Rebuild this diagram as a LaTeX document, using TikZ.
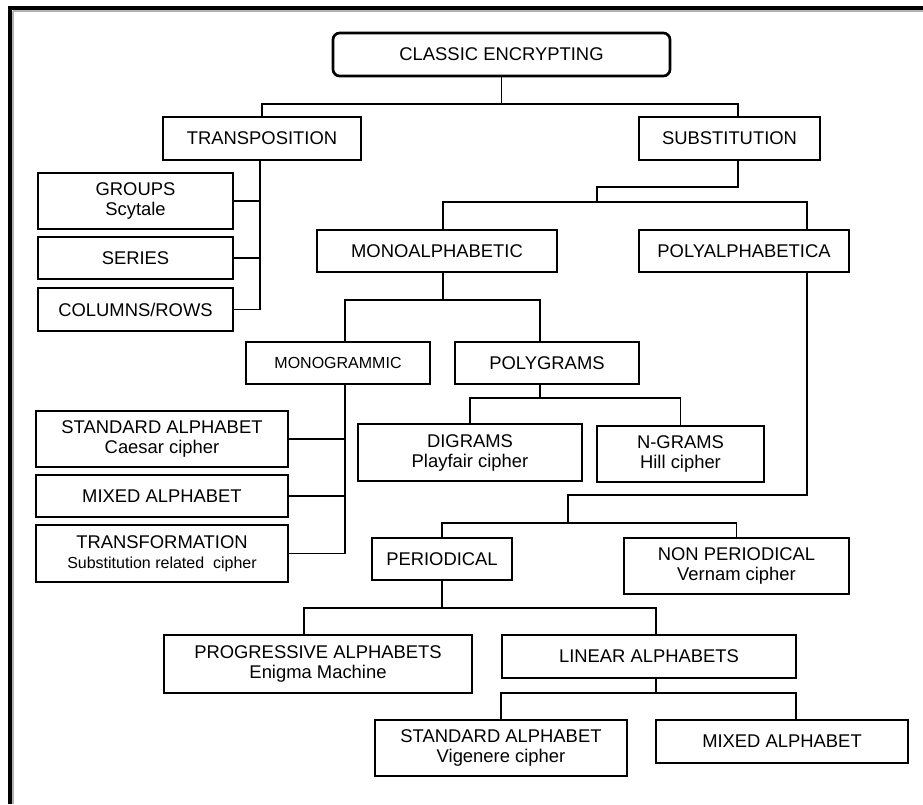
\documentclass[tikz,border=0pt]{standalone}
\usepackage{fontspec}
\setmainfont{Liberation Sans}
\usepackage{tikz}
\usetikzlibrary{positioning,calc}
\tikzstyle{box} = [rectangle, draw=black, line width=1.1pt, text centered, align=center, inner sep=0pt, font=\fontsize{13.8}{15}\selectfont]
\tikzstyle{rootbox} = [box, rounded corners=5pt, line width=2pt]
\tikzstyle{conn} = [draw=black, line width=1.1pt]
\newcommand{\sm}{\fontsize{12}{14}\selectfont}

\begin{document}
\begin{tikzpicture}[x=0.75pt, y=-0.75pt]
				\useasboundingbox (0,0) rectangle (923,804);
				% frame
				\draw[gray!60, line width=0.8pt] (13,11) -- (923,11);
				\draw[gray!60, line width=0.8pt] (13,11) -- (13,804);
				\draw[line width=3pt] (8,8) -- (923,8);
				\draw[line width=3pt] (10,6) -- (10,804);
				
				\node[rootbox, minimum width=252.75pt, minimum height=32.25pt] (classic) at (501.5,54.5) {CLASSIC ENCRYPTING};
				
				\node[box, minimum width=148.5pt, minimum height=32.25pt] (transp) at (262,138.5) {TRANSPOSITION};
				\node[box, minimum width=135.75pt, minimum height=32.25pt] (subst) at (729.5,138.5) {SUBSTITUTION};
				
				\node[box, minimum width=146.25pt, minimum height=42pt] (groups) at (135.5,201) {GROUPS\\Scytale};
				\node[box, minimum width=146.25pt, minimum height=31.5pt] (series) at (135.5,258) {SERIES};
				\node[box, minimum width=146.25pt, minimum height=32.25pt] (colrow) at (135.5,309.5) {COLUMNS/ROWS};
				
				\node[box, minimum width=180pt, minimum height=31.5pt] (mono) at (437,251) {MONOALPHABETIC};
				\node[box, minimum width=157.5pt, minimum height=31.5pt] (polyalph) at (744,251) {POLYALPHABETICA};
				
				\node[box, minimum width=138pt, minimum height=31.5pt] (monogr) at (338,363) {\sm MONOGRAMMIC};
				\node[box, minimum width=138pt, minimum height=31.5pt] (polygr) at (547,363) {POLYGRAMS};
				
				\node[box, minimum width=189pt, minimum height=42pt] (stdalpha) at (162,439) {STANDARD ALPHABET\\Caesar cipher};
				\node[box, minimum width=189pt, minimum height=31.5pt] (mixalpha) at (162,496) {MIXED ALPHABET};
				\node[box, minimum width=189pt, minimum height=42.75pt] (transf) at (162,553.5) {TRANSFORMATION\\\sm Substitution related\ \ cipher};
				
				\node[box, minimum width=168pt, minimum height=42.75pt] (digrams) at (470,452.5) {DIGRAMS\\Playfair cipher};
				\node[box, minimum width=125.25pt, minimum height=42pt] (ngrams) at (680.5,454) {N-GRAMS\\Hill cipher};
				
				\node[box, minimum width=105pt, minimum height=31.5pt] (periodical) at (442,559) {PERIODICAL};
				\node[box, minimum width=168.75pt, minimum height=42pt] (nonper) at (736.5,566) {NON PERIODICAL\\Vernam cipher};
				
				\node[box, minimum width=231pt, minimum height=43.5pt] (progr) at (318,664) {PROGRESSIVE ALPHABETS\\Enigma Machine};
				\node[box, minimum width=220.5pt, minimum height=32.25pt] (linear) at (649,656.5) {LINEAR ALPHABETS};
				
				\node[box, minimum width=189pt, minimum height=42pt] (stdvig) at (501,748) {STANDARD ALPHABET\\Vigenere cipher};
				\node[box, minimum width=189pt, minimum height=32.25pt] (mixed2) at (782,741.5) {MIXED ALPHABET};
				
				% junction levels and trunks
				\coordinate (h1) at (0,104);
				\coordinate (h2) at (0,187);
				\coordinate (h3) at (0,202);
				\coordinate (h4) at (0,300);
				\coordinate (h5) at (0,398);
				\coordinate (h6) at (0,495);
				\coordinate (h7) at (0,523);
				\coordinate (h8) at (0,608);
				\coordinate (h9) at (0,693);
				\coordinate (sv) at (738,0);
				\coordinate (tv) at (260,0);
				\coordinate (sj) at (597,0);
				\coordinate (mv) at (443,0);
				\coordinate (pv) at (807,0);
				\coordinate (mgv) at (345,0);
				\coordinate (pgv) at (540,0);
				\coordinate (pj) at (568,0);
				\coordinate (prv) at (304,0);
				\coordinate (lv) at (656,0);
				\coordinate (mxv) at (796,0);
				
				\draw[conn] (classic.south) -- (classic.south |- h1);
				\draw[conn] (transp.north) |- (sv |- h1) -- (sv |- subst.north);
				
				\draw[conn] (tv |- transp.south) |- (colrow.east);
				\draw[conn] (groups.east) -- (tv |- groups.east);
				\draw[conn] (series.east) -- (tv |- series.east);
				
				\draw[conn] (sv |- subst.south) |- (sj |- h2) -- (sj |- h3);
				\draw[conn] (mv |- mono.north) |- (pv |- h3) -- (pv |- polyalph.north);
				
				\draw[conn] (mv |- mono.south) -- (mv |- h4);
				\draw[conn] (mgv |- monogr.north) |- (pgv |- h4) -- (pgv |- polygr.north);
				
				\draw[conn] (mgv |- monogr.south) |- (transf.east);
				\draw[conn] (stdalpha.east) -- (mgv |- stdalpha.east);
				\draw[conn] (mixalpha.east) -- (mgv |- mixalpha.east);
				
				\draw[conn] (pgv |- polygr.south) -- (pgv |- h5);
				\draw[conn] (digrams.north) |- (ngrams.north |- h5) -- (ngrams.north);
				
				\draw[conn] (pv |- polyalph.south) |- (pj |- h6) -- (pj |- h7);
				\draw[conn] (periodical.north) |- (nonper.north |- h7) -- (nonper.north);
				
				\draw[conn] (periodical.south) -- (periodical.south |- h8);
				\draw[conn] (prv |- progr.north) |- (lv |- h8) -- (lv |- linear.north);
				
				\draw[conn] (lv |- linear.south) -- (lv |- h9);
				\draw[conn] (stdvig.north) |- (mxv |- h9) -- (mxv |- mixed2.north);
			\end{tikzpicture}
\end{document}
